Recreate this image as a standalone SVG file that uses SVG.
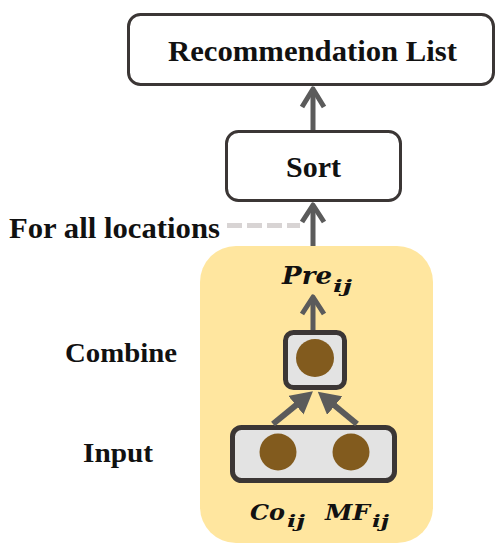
<svg xmlns="http://www.w3.org/2000/svg" width="496" height="545" viewBox="0 0 496 545">
  <style>
    .lbl { font-family: "Liberation Serif", "Times New Roman", serif; font-weight: bold; fill: #111; }
    .math { font-family: "DejaVu Serif", "Liberation Serif", serif; font-weight: bold; font-style: italic; fill: #111; }
    .box { fill: #ffffff; stroke: #3b3635; stroke-width: 3; }
    .unit { fill: #e3e3e3; stroke: #3b3635; stroke-width: 5; }
    .dot { fill: #825b1e; }
    .arrow { fill: none; stroke: #5b5b5b; stroke-width: 5; stroke-linejoin: round; }
    .thick { stroke: #5b5b5b; stroke-width: 6; fill: none; }
  </style>
  <defs>
    <marker id="tri" markerUnits="userSpaceOnUse" markerWidth="22" markerHeight="24" viewBox="0 0 22 24" refX="1" refY="12" orient="auto">
      <path d="M0,0 L22,12 L0,24 Z" fill="#5b5b5b"/>
    </marker>
  </defs>

  <!-- per-location scoring panel -->
  <rect id="panel" x="200" y="246" width="233" height="297" rx="36" fill="#ffe69f"/>

  <g id="recommendation-list">
    <rect class="box" x="128.5" y="14.5" width="365" height="70" rx="12"/>
    <text class="lbl" x="312.5" y="61" font-size="29" text-anchor="middle" textLength="289" lengthAdjust="spacingAndGlyphs">Recommendation List</text>
  </g>

  <g id="sort">
    <rect class="box" x="226.5" y="131.5" width="174" height="69" rx="12"/>
    <text class="lbl" x="313.5" y="177" font-size="29" text-anchor="middle" textLength="55" lengthAdjust="spacingAndGlyphs">Sort</text>
  </g>

  <g id="for-all-locations">
    <text class="lbl" x="9" y="238" font-size="29" textLength="211" lengthAdjust="spacingAndGlyphs">For all locations</text>
  </g>

  <g id="pre">
    <text class="math" x="282" y="284" font-size="24" textLength="50" lengthAdjust="spacingAndGlyphs">Pre</text>
    <text class="math" x="333" y="292" font-size="17" textLength="19" lengthAdjust="spacingAndGlyphs">ij</text>
  </g>

  <g id="combine-label">
    <text class="lbl" x="65" y="362" font-size="28" textLength="112" lengthAdjust="spacingAndGlyphs">Combine</text>
  </g>

  <g id="input-label">
    <text class="lbl" x="83" y="462" font-size="28" textLength="70" lengthAdjust="spacingAndGlyphs">Input</text>
  </g>

  <g id="combine">
    <rect class="unit" x="285.5" y="332.5" width="59" height="55" rx="8"/>
    <circle class="dot" cx="315" cy="358" r="19"/>
  </g>

  <g id="input">
    <rect class="unit" x="232.5" y="427.5" width="162" height="53" rx="9"/>
    <circle class="dot" cx="278" cy="452" r="18.5"/>
    <circle class="dot" cx="351" cy="452" r="18.5"/>
  </g>

  <g id="co">
    <text class="math" x="250" y="520" font-size="23" textLength="35" lengthAdjust="spacingAndGlyphs">Co</text>
    <text class="math" x="287" y="527" font-size="17" textLength="18" lengthAdjust="spacingAndGlyphs">ij</text>
  </g>

  <g id="mf">
    <text class="math" x="325" y="520" font-size="23" textLength="45" lengthAdjust="spacingAndGlyphs">MF</text>
    <text class="math" x="372" y="527" font-size="17" textLength="17" lengthAdjust="spacingAndGlyphs">ij</text>
  </g>

  <g id="connectors">
    <!-- Sort -> Recommendation List -->
    <path class="arrow" d="M313,130 L313,90"/>
    <path class="arrow" d="M302,107 L313,89 L324,107"/>
    <!-- panel -> Sort -->
    <path class="arrow" d="M313,246 L313,206"/>
    <path class="arrow" d="M302,222 L313,205 L324,222"/>
    <!-- dashed "for all locations" leader -->
    <path d="M227,225.5 L300,225.5" stroke="#d8d4d4" stroke-width="5" stroke-dasharray="15 5" fill="none"/>
    <!-- Combine -> Pre -->
    <path class="arrow" d="M313,330 L313,298"/>
    <path class="arrow" d="M302,314 L313,297 L324,314"/>
    <!-- Input -> Combine -->
    <path class="thick" d="M273,424 L296.7,404.6" marker-end="url(#tri)"/>
    <path class="thick" d="M357,424 L334,405" marker-end="url(#tri)"/>
  </g>
</svg>
